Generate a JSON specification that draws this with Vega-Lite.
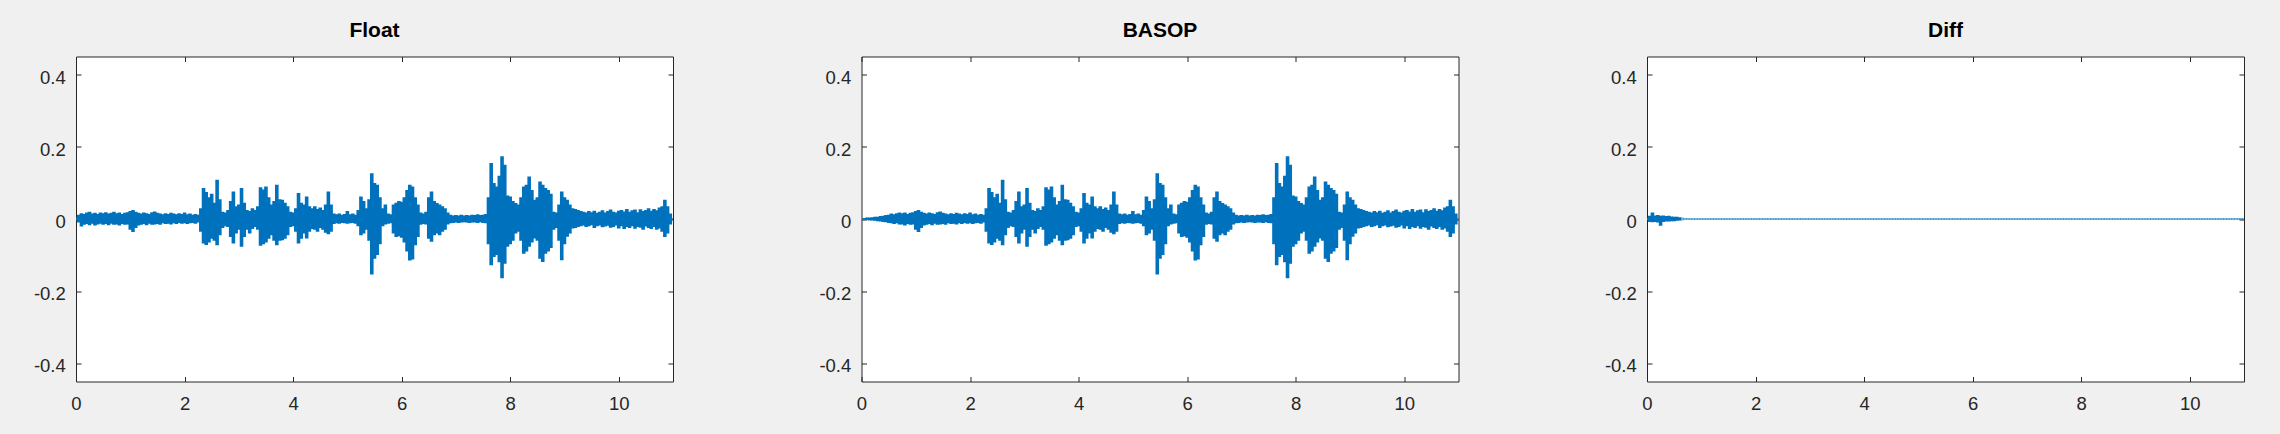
{
  "$schema": "https://vega.github.io/schema/vega-lite/v6.json",
  "background": "#f0f0f0",
  "padding": {"left": 32, "top": 19.5, "right": 50, "bottom": 50},
  "bounds": "flush",
  "spacing": 188.5,
  "data": {"values": [
{"t":0,"fh":0.004,"fl":-0.004,"bh":0.001,"bl":-0.001,"dh":0.003,"dl":-0.003},
{"t":0.05,"fh":0.012,"fl":-0.010,"bh":0.003,"bl":-0.002,"dh":0.009,"dl":-0.008},
{"t":0.1,"fh":0.016,"fl":-0.021,"bh":0.004,"bl":-0.003,"dh":0.018,"dl":-0.009},
{"t":0.15,"fh":0.014,"fl":-0.016,"bh":0.004,"bl":-0.004,"dh":0.010,"dl":-0.008},
{"t":0.2,"fh":0.018,"fl":-0.014,"bh":0.005,"bl":-0.004,"dh":0.011,"dl":-0.010},
{"t":0.25,"fh":0.020,"fl":-0.017,"bh":0.006,"bl":-0.005,"dh":0.009,"dl":-0.019},
{"t":0.3,"fh":0.015,"fl":-0.013,"bh":0.006,"bl":-0.006,"dh":0.010,"dl":-0.008},
{"t":0.35,"fh":0.017,"fl":-0.018,"bh":0.008,"bl":-0.007,"dh":0.008,"dl":-0.007},
{"t":0.4,"fh":0.014,"fl":-0.015,"bh":0.009,"bl":-0.008,"dh":0.009,"dl":-0.007},
{"t":0.45,"fh":0.018,"fl":-0.013,"bh":0.011,"bl":-0.009,"dh":0.007,"dl":-0.006},
{"t":0.5,"fh":0.016,"fl":-0.016,"bh":0.012,"bl":-0.011,"dh":0.006,"dl":-0.006},
{"t":0.55,"fh":0.019,"fl":-0.014,"bh":0.015,"bl":-0.012,"dh":0.006,"dl":-0.005},
{"t":0.6,"fh":0.015,"fl":-0.017,"bh":0.013,"bl":-0.014,"dh":0.005,"dl":-0.004},
{"t":0.65,"fh":0.017,"fl":-0.013,"bh":0.016,"bl":-0.012,"dh":0.004,"dl":-0.004},
{"t":0.7,"fh":0.020,"fl":-0.016,"bh":0.018,"bl":-0.015,"dh":0.003,"dl":-0.003},
{"t":0.75,"fh":0.016,"fl":-0.015,"bh":0.016,"bl":-0.015,"dh":0.0025,"dl":-0.0025},
{"t":0.8,"fh":0.018,"fl":-0.018,"bh":0.018,"bl":-0.018,"dh":0.0025,"dl":-0.0025},
{"t":0.85,"fh":0.014,"fl":-0.014,"bh":0.014,"bl":-0.014,"dh":0.0025,"dl":-0.0025},
{"t":0.9,"fh":0.017,"fl":-0.016,"bh":0.017,"bl":-0.016,"dh":0.0025,"dl":-0.0025},
{"t":0.95,"fh":0.019,"fl":-0.015,"bh":0.019,"bl":-0.015,"dh":0.0025,"dl":-0.0025},
{"t":1,"fh":0.022,"fl":-0.030,"bh":0.022,"bl":-0.030,"dh":0.0025,"dl":-0.0025},
{"t":1.05,"fh":0.025,"fl":-0.036,"bh":0.025,"bl":-0.036,"dh":0.0025,"dl":-0.0025},
{"t":1.1,"fh":0.020,"fl":-0.025,"bh":0.020,"bl":-0.025,"dh":0.0025,"dl":-0.0025},
{"t":1.15,"fh":0.017,"fl":-0.018,"bh":0.017,"bl":-0.018,"dh":0.0025,"dl":-0.0025},
{"t":1.2,"fh":0.015,"fl":-0.016,"bh":0.015,"bl":-0.016,"dh":0.0025,"dl":-0.0025},
{"t":1.25,"fh":0.018,"fl":-0.014,"bh":0.018,"bl":-0.014,"dh":0.0025,"dl":-0.0025},
{"t":1.3,"fh":0.016,"fl":-0.017,"bh":0.016,"bl":-0.017,"dh":0.0025,"dl":-0.0025},
{"t":1.35,"fh":0.014,"fl":-0.013,"bh":0.014,"bl":-0.013,"dh":0.0025,"dl":-0.0025},
{"t":1.4,"fh":0.019,"fl":-0.016,"bh":0.019,"bl":-0.016,"dh":0.0025,"dl":-0.0025},
{"t":1.45,"fh":0.021,"fl":-0.015,"bh":0.021,"bl":-0.015,"dh":0.0025,"dl":-0.0025},
{"t":1.5,"fh":0.017,"fl":-0.014,"bh":0.017,"bl":-0.014,"dh":0.0025,"dl":-0.0025},
{"t":1.55,"fh":0.015,"fl":-0.016,"bh":0.015,"bl":-0.016,"dh":0.0025,"dl":-0.0025},
{"t":1.6,"fh":0.013,"fl":-0.012,"bh":0.013,"bl":-0.012,"dh":0.0025,"dl":-0.0025},
{"t":1.65,"fh":0.016,"fl":-0.014,"bh":0.016,"bl":-0.014,"dh":0.0025,"dl":-0.0025},
{"t":1.7,"fh":0.014,"fl":-0.013,"bh":0.014,"bl":-0.013,"dh":0.0025,"dl":-0.0025},
{"t":1.75,"fh":0.017,"fl":-0.015,"bh":0.017,"bl":-0.015,"dh":0.0025,"dl":-0.0025},
{"t":1.8,"fh":0.015,"fl":-0.012,"bh":0.015,"bl":-0.012,"dh":0.0025,"dl":-0.0025},
{"t":1.85,"fh":0.013,"fl":-0.014,"bh":0.013,"bl":-0.014,"dh":0.0025,"dl":-0.0025},
{"t":1.9,"fh":0.016,"fl":-0.011,"bh":0.016,"bl":-0.011,"dh":0.0025,"dl":-0.0025},
{"t":1.95,"fh":0.014,"fl":-0.013,"bh":0.014,"bl":-0.013,"dh":0.0025,"dl":-0.0025},
{"t":2,"fh":0.018,"fl":-0.012,"bh":0.018,"bl":-0.012,"dh":0.0025,"dl":-0.0025},
{"t":2.05,"fh":0.013,"fl":-0.014,"bh":0.013,"bl":-0.014,"dh":0.0025,"dl":-0.0025},
{"t":2.1,"fh":0.015,"fl":-0.012,"bh":0.015,"bl":-0.012,"dh":0.0025,"dl":-0.0025},
{"t":2.15,"fh":0.012,"fl":-0.011,"bh":0.012,"bl":-0.011,"dh":0.0025,"dl":-0.0025},
{"t":2.2,"fh":0.014,"fl":-0.013,"bh":0.014,"bl":-0.013,"dh":0.0025,"dl":-0.0025},
{"t":2.25,"fh":0.012,"fl":-0.010,"bh":0.012,"bl":-0.010,"dh":0.0025,"dl":-0.0025},
{"t":2.3,"fh":0.030,"fl":-0.035,"bh":0.030,"bl":-0.035,"dh":0.0025,"dl":-0.0025},
{"t":2.35,"fh":0.086,"fl":-0.068,"bh":0.086,"bl":-0.068,"dh":0.0025,"dl":-0.0025},
{"t":2.4,"fh":0.075,"fl":-0.072,"bh":0.075,"bl":-0.072,"dh":0.0025,"dl":-0.0025},
{"t":2.45,"fh":0.060,"fl":-0.065,"bh":0.060,"bl":-0.065,"dh":0.0025,"dl":-0.0025},
{"t":2.5,"fh":0.070,"fl":-0.055,"bh":0.070,"bl":-0.055,"dh":0.0025,"dl":-0.0025},
{"t":2.55,"fh":0.045,"fl":-0.060,"bh":0.045,"bl":-0.060,"dh":0.0025,"dl":-0.0025},
{"t":2.6,"fh":0.109,"fl":-0.073,"bh":0.109,"bl":-0.073,"dh":0.0025,"dl":-0.0025},
{"t":2.65,"fh":0.055,"fl":-0.045,"bh":0.055,"bl":-0.045,"dh":0.0025,"dl":-0.0025},
{"t":2.7,"fh":0.020,"fl":-0.025,"bh":0.020,"bl":-0.025,"dh":0.0025,"dl":-0.0025},
{"t":2.75,"fh":0.018,"fl":-0.020,"bh":0.018,"bl":-0.020,"dh":0.0025,"dl":-0.0025},
{"t":2.8,"fh":0.025,"fl":-0.022,"bh":0.025,"bl":-0.022,"dh":0.0025,"dl":-0.0025},
{"t":2.85,"fh":0.050,"fl":-0.050,"bh":0.050,"bl":-0.050,"dh":0.0025,"dl":-0.0025},
{"t":2.9,"fh":0.076,"fl":-0.068,"bh":0.076,"bl":-0.068,"dh":0.0025,"dl":-0.0025},
{"t":2.95,"fh":0.035,"fl":-0.040,"bh":0.035,"bl":-0.040,"dh":0.0025,"dl":-0.0025},
{"t":3,"fh":0.040,"fl":-0.030,"bh":0.040,"bl":-0.030,"dh":0.0025,"dl":-0.0025},
{"t":3.05,"fh":0.086,"fl":-0.077,"bh":0.086,"bl":-0.077,"dh":0.0025,"dl":-0.0025},
{"t":3.1,"fh":0.045,"fl":-0.050,"bh":0.045,"bl":-0.050,"dh":0.0025,"dl":-0.0025},
{"t":3.15,"fh":0.025,"fl":-0.030,"bh":0.025,"bl":-0.030,"dh":0.0025,"dl":-0.0025},
{"t":3.2,"fh":0.022,"fl":-0.040,"bh":0.022,"bl":-0.040,"dh":0.0025,"dl":-0.0025},
{"t":3.25,"fh":0.030,"fl":-0.028,"bh":0.030,"bl":-0.028,"dh":0.0025,"dl":-0.0025},
{"t":3.3,"fh":0.025,"fl":-0.022,"bh":0.025,"bl":-0.022,"dh":0.0025,"dl":-0.0025},
{"t":3.35,"fh":0.035,"fl":-0.030,"bh":0.035,"bl":-0.030,"dh":0.0025,"dl":-0.0025},
{"t":3.4,"fh":0.088,"fl":-0.074,"bh":0.088,"bl":-0.074,"dh":0.0025,"dl":-0.0025},
{"t":3.45,"fh":0.082,"fl":-0.070,"bh":0.082,"bl":-0.070,"dh":0.0025,"dl":-0.0025},
{"t":3.5,"fh":0.090,"fl":-0.065,"bh":0.090,"bl":-0.065,"dh":0.0025,"dl":-0.0025},
{"t":3.55,"fh":0.060,"fl":-0.055,"bh":0.060,"bl":-0.055,"dh":0.0025,"dl":-0.0025},
{"t":3.6,"fh":0.040,"fl":-0.045,"bh":0.040,"bl":-0.045,"dh":0.0025,"dl":-0.0025},
{"t":3.65,"fh":0.050,"fl":-0.060,"bh":0.050,"bl":-0.060,"dh":0.0025,"dl":-0.0025},
{"t":3.7,"fh":0.095,"fl":-0.073,"bh":0.095,"bl":-0.073,"dh":0.0025,"dl":-0.0025},
{"t":3.75,"fh":0.055,"fl":-0.060,"bh":0.055,"bl":-0.060,"dh":0.0025,"dl":-0.0025},
{"t":3.8,"fh":0.053,"fl":-0.059,"bh":0.053,"bl":-0.059,"dh":0.0025,"dl":-0.0025},
{"t":3.85,"fh":0.045,"fl":-0.055,"bh":0.045,"bl":-0.055,"dh":0.0025,"dl":-0.0025},
{"t":3.9,"fh":0.035,"fl":-0.045,"bh":0.035,"bl":-0.045,"dh":0.0025,"dl":-0.0025},
{"t":3.95,"fh":0.020,"fl":-0.022,"bh":0.020,"bl":-0.022,"dh":0.0025,"dl":-0.0025},
{"t":4,"fh":0.018,"fl":-0.020,"bh":0.018,"bl":-0.020,"dh":0.0025,"dl":-0.0025},
{"t":4.05,"fh":0.030,"fl":-0.035,"bh":0.030,"bl":-0.035,"dh":0.0025,"dl":-0.0025},
{"t":4.1,"fh":0.072,"fl":-0.068,"bh":0.072,"bl":-0.068,"dh":0.0025,"dl":-0.0025},
{"t":4.15,"fh":0.045,"fl":-0.055,"bh":0.045,"bl":-0.055,"dh":0.0025,"dl":-0.0025},
{"t":4.2,"fh":0.040,"fl":-0.040,"bh":0.040,"bl":-0.040,"dh":0.0025,"dl":-0.0025},
{"t":4.25,"fh":0.062,"fl":-0.054,"bh":0.062,"bl":-0.054,"dh":0.0025,"dl":-0.0025},
{"t":4.3,"fh":0.035,"fl":-0.035,"bh":0.035,"bl":-0.035,"dh":0.0025,"dl":-0.0025},
{"t":4.35,"fh":0.030,"fl":-0.028,"bh":0.030,"bl":-0.028,"dh":0.0025,"dl":-0.0025},
{"t":4.4,"fh":0.035,"fl":-0.030,"bh":0.035,"bl":-0.030,"dh":0.0025,"dl":-0.0025},
{"t":4.45,"fh":0.028,"fl":-0.035,"bh":0.028,"bl":-0.035,"dh":0.0025,"dl":-0.0025},
{"t":4.5,"fh":0.032,"fl":-0.025,"bh":0.032,"bl":-0.025,"dh":0.0025,"dl":-0.0025},
{"t":4.55,"fh":0.025,"fl":-0.030,"bh":0.025,"bl":-0.030,"dh":0.0025,"dl":-0.0025},
{"t":4.6,"fh":0.040,"fl":-0.038,"bh":0.040,"bl":-0.038,"dh":0.0025,"dl":-0.0025},
{"t":4.65,"fh":0.076,"fl":-0.042,"bh":0.076,"bl":-0.042,"dh":0.0025,"dl":-0.0025},
{"t":4.7,"fh":0.040,"fl":-0.035,"bh":0.040,"bl":-0.035,"dh":0.0025,"dl":-0.0025},
{"t":4.75,"fh":0.015,"fl":-0.014,"bh":0.015,"bl":-0.014,"dh":0.0025,"dl":-0.0025},
{"t":4.8,"fh":0.013,"fl":-0.012,"bh":0.013,"bl":-0.012,"dh":0.0025,"dl":-0.0025},
{"t":4.85,"fh":0.015,"fl":-0.013,"bh":0.015,"bl":-0.013,"dh":0.0025,"dl":-0.0025},
{"t":4.9,"fh":0.012,"fl":-0.011,"bh":0.012,"bl":-0.011,"dh":0.0025,"dl":-0.0025},
{"t":4.95,"fh":0.014,"fl":-0.012,"bh":0.014,"bl":-0.012,"dh":0.0025,"dl":-0.0025},
{"t":5,"fh":0.022,"fl":-0.013,"bh":0.022,"bl":-0.013,"dh":0.0025,"dl":-0.0025},
{"t":5.05,"fh":0.013,"fl":-0.012,"bh":0.013,"bl":-0.012,"dh":0.0025,"dl":-0.0025},
{"t":5.1,"fh":0.015,"fl":-0.011,"bh":0.015,"bl":-0.011,"dh":0.0025,"dl":-0.0025},
{"t":5.15,"fh":0.012,"fl":-0.013,"bh":0.012,"bl":-0.013,"dh":0.0025,"dl":-0.0025},
{"t":5.2,"fh":0.025,"fl":-0.020,"bh":0.025,"bl":-0.020,"dh":0.0025,"dl":-0.0025},
{"t":5.25,"fh":0.062,"fl":-0.045,"bh":0.062,"bl":-0.045,"dh":0.0025,"dl":-0.0025},
{"t":5.3,"fh":0.050,"fl":-0.040,"bh":0.050,"bl":-0.040,"dh":0.0025,"dl":-0.0025},
{"t":5.35,"fh":0.030,"fl":-0.030,"bh":0.030,"bl":-0.030,"dh":0.0025,"dl":-0.0025},
{"t":5.4,"fh":0.055,"fl":-0.060,"bh":0.055,"bl":-0.060,"dh":0.0025,"dl":-0.0025},
{"t":5.45,"fh":0.127,"fl":-0.154,"bh":0.127,"bl":-0.154,"dh":0.0025,"dl":-0.0025},
{"t":5.5,"fh":0.100,"fl":-0.110,"bh":0.100,"bl":-0.110,"dh":0.0025,"dl":-0.0025},
{"t":5.55,"fh":0.095,"fl":-0.100,"bh":0.095,"bl":-0.100,"dh":0.0025,"dl":-0.0025},
{"t":5.6,"fh":0.060,"fl":-0.070,"bh":0.060,"bl":-0.070,"dh":0.0025,"dl":-0.0025},
{"t":5.65,"fh":0.030,"fl":-0.020,"bh":0.030,"bl":-0.020,"dh":0.0025,"dl":-0.0025},
{"t":5.7,"fh":0.040,"fl":-0.015,"bh":0.040,"bl":-0.015,"dh":0.0025,"dl":-0.0025},
{"t":5.75,"fh":0.015,"fl":-0.013,"bh":0.015,"bl":-0.013,"dh":0.0025,"dl":-0.0025},
{"t":5.8,"fh":0.013,"fl":-0.012,"bh":0.013,"bl":-0.012,"dh":0.0025,"dl":-0.0025},
{"t":5.85,"fh":0.040,"fl":-0.040,"bh":0.040,"bl":-0.040,"dh":0.0025,"dl":-0.0025},
{"t":5.9,"fh":0.045,"fl":-0.050,"bh":0.045,"bl":-0.050,"dh":0.0025,"dl":-0.0025},
{"t":5.95,"fh":0.050,"fl":-0.048,"bh":0.050,"bl":-0.048,"dh":0.0025,"dl":-0.0025},
{"t":6,"fh":0.048,"fl":-0.052,"bh":0.048,"bl":-0.052,"dh":0.0025,"dl":-0.0025},
{"t":6.05,"fh":0.060,"fl":-0.065,"bh":0.060,"bl":-0.065,"dh":0.0025,"dl":-0.0025},
{"t":6.1,"fh":0.080,"fl":-0.090,"bh":0.080,"bl":-0.090,"dh":0.0025,"dl":-0.0025},
{"t":6.15,"fh":0.095,"fl":-0.115,"bh":0.095,"bl":-0.115,"dh":0.0025,"dl":-0.0025},
{"t":6.2,"fh":0.090,"fl":-0.112,"bh":0.090,"bl":-0.112,"dh":0.0025,"dl":-0.0025},
{"t":6.25,"fh":0.060,"fl":-0.073,"bh":0.060,"bl":-0.073,"dh":0.0025,"dl":-0.0025},
{"t":6.3,"fh":0.040,"fl":-0.050,"bh":0.040,"bl":-0.050,"dh":0.0025,"dl":-0.0025},
{"t":6.35,"fh":0.018,"fl":-0.016,"bh":0.018,"bl":-0.016,"dh":0.0025,"dl":-0.0025},
{"t":6.4,"fh":0.015,"fl":-0.014,"bh":0.015,"bl":-0.014,"dh":0.0025,"dl":-0.0025},
{"t":6.45,"fh":0.020,"fl":-0.015,"bh":0.020,"bl":-0.015,"dh":0.0025,"dl":-0.0025},
{"t":6.5,"fh":0.060,"fl":-0.055,"bh":0.060,"bl":-0.055,"dh":0.0025,"dl":-0.0025},
{"t":6.55,"fh":0.076,"fl":-0.063,"bh":0.076,"bl":-0.063,"dh":0.0025,"dl":-0.0025},
{"t":6.6,"fh":0.050,"fl":-0.045,"bh":0.050,"bl":-0.045,"dh":0.0025,"dl":-0.0025},
{"t":6.65,"fh":0.044,"fl":-0.040,"bh":0.044,"bl":-0.040,"dh":0.0025,"dl":-0.0025},
{"t":6.7,"fh":0.040,"fl":-0.045,"bh":0.040,"bl":-0.045,"dh":0.0025,"dl":-0.0025},
{"t":6.75,"fh":0.035,"fl":-0.035,"bh":0.035,"bl":-0.035,"dh":0.0025,"dl":-0.0025},
{"t":6.8,"fh":0.030,"fl":-0.030,"bh":0.030,"bl":-0.030,"dh":0.0025,"dl":-0.0025},
{"t":6.85,"fh":0.018,"fl":-0.015,"bh":0.018,"bl":-0.015,"dh":0.0025,"dl":-0.0025},
{"t":6.9,"fh":0.012,"fl":-0.012,"bh":0.012,"bl":-0.012,"dh":0.0025,"dl":-0.0025},
{"t":6.95,"fh":0.010,"fl":-0.011,"bh":0.010,"bl":-0.011,"dh":0.0025,"dl":-0.0025},
{"t":7,"fh":0.011,"fl":-0.010,"bh":0.011,"bl":-0.010,"dh":0.0025,"dl":-0.0025},
{"t":7.05,"fh":0.010,"fl":-0.011,"bh":0.010,"bl":-0.011,"dh":0.0025,"dl":-0.0025},
{"t":7.1,"fh":0.012,"fl":-0.010,"bh":0.012,"bl":-0.010,"dh":0.0025,"dl":-0.0025},
{"t":7.15,"fh":0.010,"fl":-0.009,"bh":0.010,"bl":-0.009,"dh":0.0025,"dl":-0.0025},
{"t":7.2,"fh":0.011,"fl":-0.010,"bh":0.011,"bl":-0.010,"dh":0.0025,"dl":-0.0025},
{"t":7.25,"fh":0.010,"fl":-0.011,"bh":0.010,"bl":-0.011,"dh":0.0025,"dl":-0.0025},
{"t":7.3,"fh":0.012,"fl":-0.010,"bh":0.012,"bl":-0.010,"dh":0.0025,"dl":-0.0025},
{"t":7.35,"fh":0.011,"fl":-0.010,"bh":0.011,"bl":-0.010,"dh":0.0025,"dl":-0.0025},
{"t":7.4,"fh":0.013,"fl":-0.011,"bh":0.013,"bl":-0.011,"dh":0.0025,"dl":-0.0025},
{"t":7.45,"fh":0.011,"fl":-0.009,"bh":0.011,"bl":-0.009,"dh":0.0025,"dl":-0.0025},
{"t":7.5,"fh":0.012,"fl":-0.011,"bh":0.012,"bl":-0.011,"dh":0.0025,"dl":-0.0025},
{"t":7.55,"fh":0.014,"fl":-0.012,"bh":0.014,"bl":-0.012,"dh":0.0025,"dl":-0.0025},
{"t":7.6,"fh":0.060,"fl":-0.070,"bh":0.060,"bl":-0.070,"dh":0.0025,"dl":-0.0025},
{"t":7.65,"fh":0.155,"fl":-0.128,"bh":0.155,"bl":-0.128,"dh":0.0025,"dl":-0.0025},
{"t":7.7,"fh":0.100,"fl":-0.105,"bh":0.100,"bl":-0.105,"dh":0.0025,"dl":-0.0025},
{"t":7.75,"fh":0.090,"fl":-0.100,"bh":0.090,"bl":-0.100,"dh":0.0025,"dl":-0.0025},
{"t":7.8,"fh":0.120,"fl":-0.120,"bh":0.120,"bl":-0.120,"dh":0.0025,"dl":-0.0025},
{"t":7.85,"fh":0.174,"fl":-0.164,"bh":0.174,"bl":-0.164,"dh":0.0025,"dl":-0.0025},
{"t":7.9,"fh":0.150,"fl":-0.124,"bh":0.150,"bl":-0.124,"dh":0.0025,"dl":-0.0025},
{"t":7.95,"fh":0.065,"fl":-0.077,"bh":0.065,"bl":-0.077,"dh":0.0025,"dl":-0.0025},
{"t":8,"fh":0.062,"fl":-0.070,"bh":0.062,"bl":-0.070,"dh":0.0025,"dl":-0.0025},
{"t":8.05,"fh":0.050,"fl":-0.060,"bh":0.050,"bl":-0.060,"dh":0.0025,"dl":-0.0025},
{"t":8.1,"fh":0.044,"fl":-0.040,"bh":0.044,"bl":-0.040,"dh":0.0025,"dl":-0.0025},
{"t":8.15,"fh":0.040,"fl":-0.035,"bh":0.040,"bl":-0.035,"dh":0.0025,"dl":-0.0025},
{"t":8.2,"fh":0.060,"fl":-0.060,"bh":0.060,"bl":-0.060,"dh":0.0025,"dl":-0.0025},
{"t":8.25,"fh":0.090,"fl":-0.096,"bh":0.090,"bl":-0.096,"dh":0.0025,"dl":-0.0025},
{"t":8.3,"fh":0.095,"fl":-0.090,"bh":0.095,"bl":-0.090,"dh":0.0025,"dl":-0.0025},
{"t":8.35,"fh":0.118,"fl":-0.077,"bh":0.118,"bl":-0.077,"dh":0.0025,"dl":-0.0025},
{"t":8.4,"fh":0.080,"fl":-0.065,"bh":0.080,"bl":-0.065,"dh":0.0025,"dl":-0.0025},
{"t":8.45,"fh":0.053,"fl":-0.054,"bh":0.053,"bl":-0.054,"dh":0.0025,"dl":-0.0025},
{"t":8.5,"fh":0.060,"fl":-0.060,"bh":0.060,"bl":-0.060,"dh":0.0025,"dl":-0.0025},
{"t":8.55,"fh":0.104,"fl":-0.110,"bh":0.104,"bl":-0.110,"dh":0.0025,"dl":-0.0025},
{"t":8.6,"fh":0.095,"fl":-0.119,"bh":0.095,"bl":-0.119,"dh":0.0025,"dl":-0.0025},
{"t":8.65,"fh":0.086,"fl":-0.096,"bh":0.086,"bl":-0.096,"dh":0.0025,"dl":-0.0025},
{"t":8.7,"fh":0.080,"fl":-0.090,"bh":0.080,"bl":-0.090,"dh":0.0025,"dl":-0.0025},
{"t":8.75,"fh":0.070,"fl":-0.080,"bh":0.070,"bl":-0.080,"dh":0.0025,"dl":-0.0025},
{"t":8.8,"fh":0.020,"fl":-0.030,"bh":0.020,"bl":-0.030,"dh":0.0025,"dl":-0.0025},
{"t":8.85,"fh":0.018,"fl":-0.025,"bh":0.018,"bl":-0.025,"dh":0.0025,"dl":-0.0025},
{"t":8.9,"fh":0.040,"fl":-0.060,"bh":0.040,"bl":-0.060,"dh":0.0025,"dl":-0.0025},
{"t":8.95,"fh":0.076,"fl":-0.114,"bh":0.076,"bl":-0.114,"dh":0.0025,"dl":-0.0025},
{"t":9,"fh":0.060,"fl":-0.070,"bh":0.060,"bl":-0.070,"dh":0.0025,"dl":-0.0025},
{"t":9.05,"fh":0.053,"fl":-0.049,"bh":0.053,"bl":-0.049,"dh":0.0025,"dl":-0.0025},
{"t":9.1,"fh":0.040,"fl":-0.040,"bh":0.040,"bl":-0.040,"dh":0.0025,"dl":-0.0025},
{"t":9.15,"fh":0.030,"fl":-0.026,"bh":0.030,"bl":-0.026,"dh":0.0025,"dl":-0.0025},
{"t":9.2,"fh":0.028,"fl":-0.025,"bh":0.028,"bl":-0.025,"dh":0.0025,"dl":-0.0025},
{"t":9.25,"fh":0.025,"fl":-0.022,"bh":0.025,"bl":-0.022,"dh":0.0025,"dl":-0.0025},
{"t":9.3,"fh":0.022,"fl":-0.020,"bh":0.022,"bl":-0.020,"dh":0.0025,"dl":-0.0025},
{"t":9.35,"fh":0.020,"fl":-0.018,"bh":0.020,"bl":-0.018,"dh":0.0025,"dl":-0.0025},
{"t":9.4,"fh":0.018,"fl":-0.022,"bh":0.018,"bl":-0.022,"dh":0.0025,"dl":-0.0025},
{"t":9.45,"fh":0.022,"fl":-0.020,"bh":0.022,"bl":-0.020,"dh":0.0025,"dl":-0.0025},
{"t":9.5,"fh":0.019,"fl":-0.017,"bh":0.019,"bl":-0.017,"dh":0.0025,"dl":-0.0025},
{"t":9.55,"fh":0.023,"fl":-0.025,"bh":0.023,"bl":-0.025,"dh":0.0025,"dl":-0.0025},
{"t":9.6,"fh":0.017,"fl":-0.020,"bh":0.017,"bl":-0.020,"dh":0.0025,"dl":-0.0025},
{"t":9.65,"fh":0.020,"fl":-0.018,"bh":0.020,"bl":-0.018,"dh":0.0025,"dl":-0.0025},
{"t":9.7,"fh":0.024,"fl":-0.023,"bh":0.024,"bl":-0.023,"dh":0.0025,"dl":-0.0025},
{"t":9.75,"fh":0.018,"fl":-0.021,"bh":0.018,"bl":-0.021,"dh":0.0025,"dl":-0.0025},
{"t":9.8,"fh":0.022,"fl":-0.019,"bh":0.022,"bl":-0.019,"dh":0.0025,"dl":-0.0025},
{"t":9.85,"fh":0.026,"fl":-0.024,"bh":0.026,"bl":-0.024,"dh":0.0025,"dl":-0.0025},
{"t":9.9,"fh":0.020,"fl":-0.022,"bh":0.020,"bl":-0.022,"dh":0.0025,"dl":-0.0025},
{"t":9.95,"fh":0.018,"fl":-0.018,"bh":0.018,"bl":-0.018,"dh":0.0025,"dl":-0.0025},
{"t":10,"fh":0.023,"fl":-0.026,"bh":0.023,"bl":-0.026,"dh":0.0025,"dl":-0.0025},
{"t":10.05,"fh":0.025,"fl":-0.020,"bh":0.025,"bl":-0.020,"dh":0.0025,"dl":-0.0025},
{"t":10.1,"fh":0.021,"fl":-0.028,"bh":0.021,"bl":-0.028,"dh":0.0025,"dl":-0.0025},
{"t":10.15,"fh":0.028,"fl":-0.022,"bh":0.028,"bl":-0.022,"dh":0.0025,"dl":-0.0025},
{"t":10.2,"fh":0.020,"fl":-0.025,"bh":0.020,"bl":-0.025,"dh":0.0025,"dl":-0.0025},
{"t":10.25,"fh":0.024,"fl":-0.020,"bh":0.024,"bl":-0.020,"dh":0.0025,"dl":-0.0025},
{"t":10.3,"fh":0.026,"fl":-0.027,"bh":0.026,"bl":-0.027,"dh":0.0025,"dl":-0.0025},
{"t":10.35,"fh":0.019,"fl":-0.022,"bh":0.019,"bl":-0.022,"dh":0.0025,"dl":-0.0025},
{"t":10.4,"fh":0.027,"fl":-0.024,"bh":0.027,"bl":-0.024,"dh":0.0025,"dl":-0.0025},
{"t":10.45,"fh":0.022,"fl":-0.030,"bh":0.022,"bl":-0.030,"dh":0.0025,"dl":-0.0025},
{"t":10.5,"fh":0.025,"fl":-0.021,"bh":0.025,"bl":-0.021,"dh":0.0025,"dl":-0.0025},
{"t":10.55,"fh":0.030,"fl":-0.025,"bh":0.030,"bl":-0.025,"dh":0.0025,"dl":-0.0025},
{"t":10.6,"fh":0.023,"fl":-0.028,"bh":0.023,"bl":-0.028,"dh":0.0025,"dl":-0.0025},
{"t":10.65,"fh":0.028,"fl":-0.022,"bh":0.028,"bl":-0.022,"dh":0.0025,"dl":-0.0025},
{"t":10.7,"fh":0.024,"fl":-0.030,"bh":0.024,"bl":-0.030,"dh":0.0025,"dl":-0.0025},
{"t":10.75,"fh":0.032,"fl":-0.026,"bh":0.032,"bl":-0.026,"dh":0.0025,"dl":-0.0025},
{"t":10.8,"fh":0.035,"fl":-0.035,"bh":0.035,"bl":-0.035,"dh":0.0025,"dl":-0.0025},
{"t":10.85,"fh":0.053,"fl":-0.050,"bh":0.053,"bl":-0.050,"dh":0.0025,"dl":-0.0025},
{"t":10.9,"fh":0.035,"fl":-0.040,"bh":0.035,"bl":-0.040,"dh":0.0025,"dl":-0.0025},
{"t":10.95,"fh":0.015,"fl":-0.015,"bh":0.015,"bl":-0.015,"dh":0.0025,"dl":-0.0025},
{"t":11,"fh":0.002,"fl":-0.002,"bh":0.002,"bl":-0.002,"dh":0.0025,"dl":-0.0025}
  ]},
  "hconcat": [
    {
      "width": 597, "height": 325,
      "title": "Float",
      "layer": [
        {"mark": {"type": "rule", "color": "#0072BD", "strokeWidth": 3.6, "clip": true},
         "encoding": {
           "x": {"field": "t", "type": "quantitative", "title": null, "scale": {"domain": [0, 11], "nice": false, "zero": false},
                 "axis": {"orient": "bottom", "values": [0, 2, 4, 6, 8, 10], "labelPadding": 18.3, "tickSize": -5}},
           "y": {"field": "fl", "type": "quantitative", "title": null, "scale": {"domain": [-0.45, 0.45], "nice": false},
                 "axis": {"orient": "left", "values": [-0.4, -0.2, 0, 0.2, 0.4], "labelPadding": 15.7, "tickSize": -5, "labelOffset": 2.5,
                          "labelExpr": "datum.value < 0 ? '-' + format(-datum.value, '.1~f') : format(datum.value, '.1~f')"}},
           "y2": {"field": "fh"}
         }},
        {"mark": {"type": "rule", "opacity": 0},
         "encoding": {
           "x": {"field": "t", "type": "quantitative", "title": null, "axis": {"orient": "top", "values": [0, 2, 4, 6, 8, 10], "labels": false, "tickSize": -5}},
           "y": {"field": "fl", "type": "quantitative", "title": null, "axis": {"orient": "right", "values": [-0.4, -0.2, 0, 0.2, 0.4], "labels": false, "tickSize": -5}}
         }}
      ],
      "resolve": {"axis": {"x": "independent", "y": "independent"}}
    },
    {
      "width": 597, "height": 325,
      "title": "BASOP",
      "layer": [
        {"mark": {"type": "rule", "color": "#0072BD", "strokeWidth": 3.6, "clip": true},
         "encoding": {
           "x": {"field": "t", "type": "quantitative", "title": null, "scale": {"domain": [0, 11], "nice": false, "zero": false},
                 "axis": {"orient": "bottom", "values": [0, 2, 4, 6, 8, 10], "labelPadding": 18.3, "tickSize": -5}},
           "y": {"field": "bl", "type": "quantitative", "title": null, "scale": {"domain": [-0.45, 0.45], "nice": false},
                 "axis": {"orient": "left", "values": [-0.4, -0.2, 0, 0.2, 0.4], "labelPadding": 15.7, "tickSize": -5, "labelOffset": 2.5,
                          "labelExpr": "datum.value < 0 ? '-' + format(-datum.value, '.1~f') : format(datum.value, '.1~f')"}},
           "y2": {"field": "bh"}
         }},
        {"mark": {"type": "rule", "opacity": 0},
         "encoding": {
           "x": {"field": "t", "type": "quantitative", "title": null, "axis": {"orient": "top", "values": [0, 2, 4, 6, 8, 10], "labels": false, "tickSize": -5}},
           "y": {"field": "bl", "type": "quantitative", "title": null, "axis": {"orient": "right", "values": [-0.4, -0.2, 0, 0.2, 0.4], "labels": false, "tickSize": -5}}
         }}
      ],
      "resolve": {"axis": {"x": "independent", "y": "independent"}}
    },
    {
      "width": 597, "height": 325,
      "title": "Diff",
      "layer": [
        {"transform": [{"filter": "datum.t <= 0.62"}],
         "mark": {"type": "rule", "color": "#0072BD", "strokeWidth": 3.6, "clip": true},
         "encoding": {
           "x": {"field": "t", "type": "quantitative", "title": null, "scale": {"domain": [0, 11], "nice": false, "zero": false},
                 "axis": {"orient": "bottom", "values": [0, 2, 4, 6, 8, 10], "labelPadding": 18.3, "tickSize": -5}},
           "y": {"field": "dl", "type": "quantitative", "title": null, "scale": {"domain": [-0.45, 0.45], "nice": false},
                 "axis": {"orient": "left", "values": [-0.4, -0.2, 0, 0.2, 0.4], "labelPadding": 15.7, "tickSize": -5, "labelOffset": 2.5,
                          "labelExpr": "datum.value < 0 ? '-' + format(-datum.value, '.1~f') : format(datum.value, '.1~f')"}},
           "y2": {"field": "dh"}
         }},
        {"transform": [{"filter": "datum.t > 0.62"}],
         "mark": {"type": "rule", "color": "#0072BD", "opacity": 0.5, "strokeWidth": 3.6, "clip": true},
         "encoding": {
           "x": {"field": "t", "type": "quantitative", "title": null, "axis": null},
           "y": {"field": "dl", "type": "quantitative", "title": null, "axis": null},
           "y2": {"field": "dh"}
         }},
        {"mark": {"type": "rule", "opacity": 0},
         "encoding": {
           "x": {"field": "t", "type": "quantitative", "title": null, "axis": {"orient": "top", "values": [0, 2, 4, 6, 8, 10], "labels": false, "tickSize": -5}},
           "y": {"field": "dl", "type": "quantitative", "title": null, "axis": {"orient": "right", "values": [-0.4, -0.2, 0, 0.2, 0.4], "labels": false, "tickSize": -5}}
         }}
      ],
      "resolve": {"axis": {"x": "independent", "y": "independent"}}
    }
  ],
  "config": {
    "view": {"stroke": "#262626", "strokeWidth": 1, "fill": "white"},
    "axis": {"grid": false, "domain": false, "labelFont": "Liberation Sans", "labelFontSize": 18.5, "labelColor": "#262626",
             "tickColor": "#262626", "tickWidth": 1, "labelFlush": false, "labelOverlap": false},
    "title": {"font": "Liberation Sans", "fontSize": 21, "fontWeight": "bold", "color": "#000000", "offset": 15,
              "baseline": "alphabetic", "anchor": "middle", "frame": "group"}
  }
}
